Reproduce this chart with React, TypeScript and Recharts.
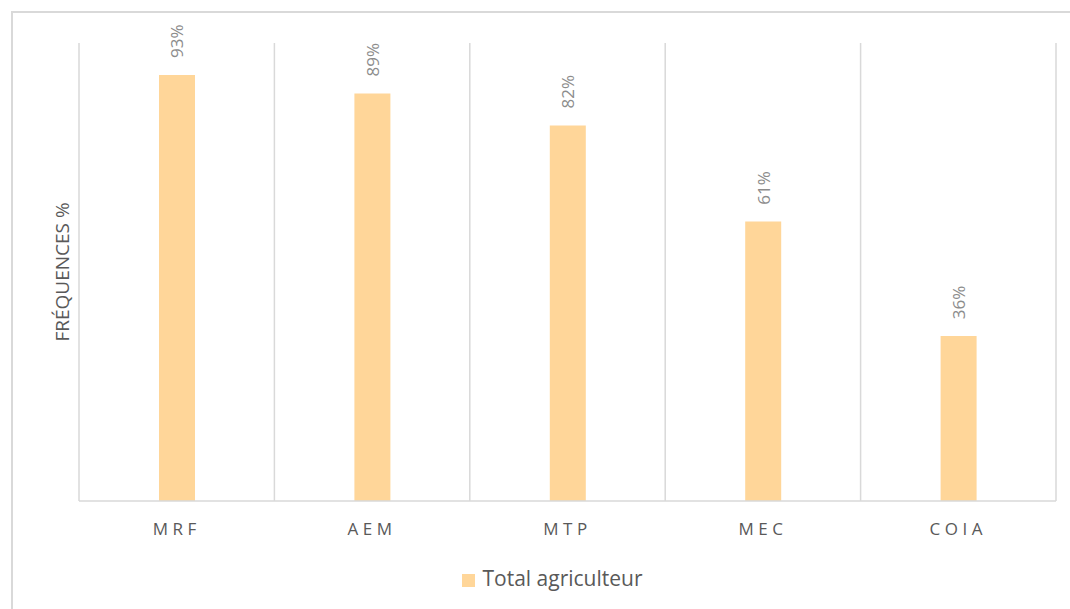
import { BarChart, Bar, XAxis, YAxis, CartesianGrid, Legend, LabelList } from 'recharts';

const categories = ['MRF', 'AEM', 'MTP', 'MEC', 'COIA'];
const totalAgriculteur = [93, 89, 82, 61, 36];

const data = categories.map((name, i) => ({ name, total: totalAgriculteur[i] }));

const FONT = '"Open Sans", "Liberation Sans", sans-serif';
const GRID = '#d9d9d9';
const BAR = '#ffd699';

// rotated value label sitting just above each bar
function ValueLabel(props: any) {
  const { x, y, width, value } = props;
  const cx = x + width / 2;
  const by = y - 17;
  return (
    <text
      x={cx}
      y={by}
      transform={`rotate(-90, ${cx}, ${by})`}
      textAnchor="start"
      dominantBaseline="central"
      fill="#8c8c8c"
      fontSize={17}
      fontFamily={FONT}
    >
      {value}%
    </text>
  );
}

// grid lines at the category boundaries, not the centres
const boundaryLines = ({ offset }: any) => {
  const n = categories.length;
  return Array.from({ length: n + 1 }, (_, i) => offset.left + (offset.width * i) / n);
};

export default function App() {
  return (
    <div style={{ position: 'fixed', left: 0, top: 0, width: 1070, height: 609, overflow: 'hidden', background: '#fff' }}>
      <div style={{
        position: 'absolute', left: 11, top: 11, width: 1080, height: 640,
        border: `2px solid ${GRID}`, boxSizing: 'border-box',
      }} />
      <div style={{
        position: 'absolute', left: 62, top: 272, transform: 'translate(-50%, -50%) rotate(-90deg)',
        fontFamily: FONT, fontSize: 19, color: '#595959', whiteSpace: 'nowrap',
      }}>
        FRÉQUENCES %
      </div>
      <div style={{ position: 'absolute', left: 0, top: 0 }}>
        <BarChart
          width={1070}
          height={609}
          data={data}
          margin={{ top: 43, right: 14, left: 79, bottom: 17 }}
          barSize={36}
        >
          <CartesianGrid horizontal={false} stroke={GRID} strokeWidth={1.5} verticalCoordinatesGenerator={boundaryLines} />
          <XAxis
            dataKey="name"
            axisLine={{ stroke: GRID, strokeWidth: 1.5 }}
            tickLine={false}
            height={63}
            tick={{ fill: '#595959', fontSize: 17, fontFamily: FONT, letterSpacing: 4.5, dy: 14 }}
          />
          <YAxis hide domain={[0, 100]} />
          <Legend
            verticalAlign="bottom"
            align="center"
            iconType="square"
            iconSize={13}
            wrapperStyle={{ fontFamily: FONT, fontSize: 21, left: 69 }}
            formatter={(v: string) => <span style={{ color: '#595959', marginLeft: 3 }}>{v}</span>}
          />
          <Bar dataKey="total" name="Total agriculteur" fill={BAR} isAnimationActive={false}>
            <LabelList dataKey="total" content={ValueLabel} />
          </Bar>
        </BarChart>
      </div>
    </div>
  );
}
